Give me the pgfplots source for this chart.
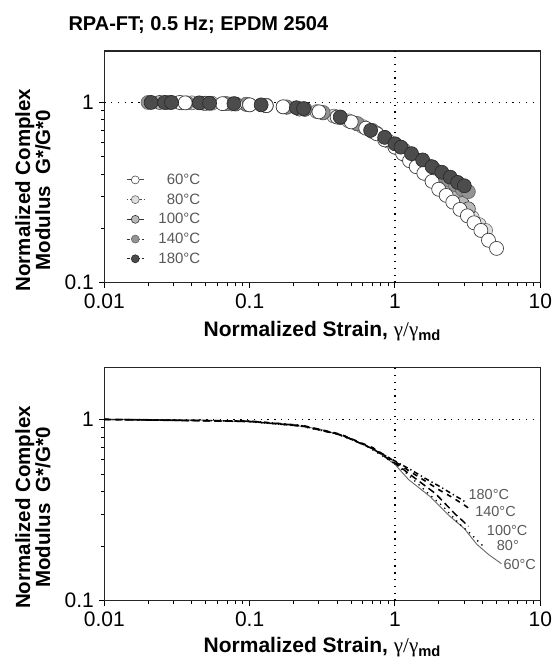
\documentclass[border=0pt]{standalone}
\usepackage{fontspec}
\setmainfont{Liberation Sans}
\newfontfamily\greekfont{Liberation Serif}
\usepackage{pgfplots}
\pgfplotsset{compat=1.18}
\usepackage{pgfplotstable}

\pgfplotstableread{
x y
0.033 1.0
0.036 0.995
0.05 0.99
0.065 0.985
0.08 0.98
0.1 0.97
0.13 0.96
0.17 0.946
0.22 0.92
0.3 0.887
0.4 0.83
0.5 0.78
0.63 0.72
0.75 0.67
0.85 0.62
1.0 0.565
1.13 0.52
1.26 0.475
1.4 0.44
1.58 0.405
1.8 0.365
2.0 0.33
2.25 0.305
2.5 0.28
2.8 0.255
3.15 0.235
3.5 0.215
3.9 0.195
4.4 0.172
5.0 0.155
}\tabA
\pgfplotstableread{
x y
0.028 1.0
0.04 0.995
0.055 0.99
0.075 0.98
0.1 0.97
0.13 0.96
0.17 0.945
0.22 0.92
0.29 0.89
0.38 0.84
0.48 0.79
0.6 0.735
0.75 0.675
0.9 0.61
1.05 0.555
1.2 0.505
1.35 0.465
1.5 0.435
1.7 0.395
1.9 0.36
2.15 0.33
2.4 0.30
2.7 0.275
3.0 0.255
3.4 0.23
3.8 0.21
4.2 0.195
}\tabB
\pgfplotstableread{
x y
0.024 1.0
0.034 0.995
0.048 0.99
0.068 0.985
0.095 0.975
0.13 0.96
0.18 0.94
0.24 0.915
0.32 0.875
0.42 0.825
0.55 0.76
0.7 0.69
0.85 0.63
1.0 0.575
1.15 0.53
1.3 0.49
1.5 0.45
1.7 0.415
1.9 0.385
2.1 0.355
2.35 0.325
2.6 0.30
2.9 0.275
3.2 0.257
}\tabC
\pgfplotstableread{
x y
0.02 1.0
0.027 0.998
0.037 0.995
0.05 0.99
0.07 0.985
0.095 0.978
0.13 0.965
0.18 0.945
0.24 0.92
0.32 0.88
0.42 0.83
0.55 0.765
0.7 0.70
0.85 0.64
1.0 0.585
1.15 0.545
1.3 0.51
1.5 0.475
1.7 0.445
1.9 0.42
2.1 0.395
2.35 0.37
2.6 0.35
2.9 0.33
3.2 0.32
}\tabD
\pgfplotstableread{
x y
0.021 1.0
0.026 1.0
0.029 1.0
0.045 0.995
0.053 0.99
0.078 0.985
0.12 0.97
0.21 0.935
0.235 0.925
0.42 0.83
0.68 0.70
0.85 0.64
1.0 0.59
1.1 0.565
1.3 0.52
1.55 0.48
1.8 0.44
2.1 0.41
2.4 0.385
2.7 0.36
3.0 0.345
}\tabE

\tikzset{gridln/.style={black, line width=1.3pt, dash pattern=on 1.3pt off 5.5pt}}
\newcommand\ylab{Normalized Complex\\Modulus\ \ G*/G*0}
\newcommand\xlab{Normalized Strain, {\greekfont\mdseries γ/γ}\textsubscript{md}}
\newcommand\tlfont{\fontsize{21}{24}\selectfont}
\newcommand\legtxt[1]{\makebox[44pt][r]{#1}}

\begin{document}
\begin{tikzpicture}
\path[use as bounding box] (0,0) rectangle (558pt,660pt);
\node[anchor=west, font=\bfseries\fontsize{20}{24}\selectfont] at (65pt,635pt) {RPA-FT; 0.5 Hz; EPDM 2504};

\begin{axis}[at={(104.3pt,377.3pt)}, anchor=south west,
  scale only axis, width=436pt, height=231.7pt,
  xmode=log, ymode=log,
  xmin=0.01, xmax=10, ymin=0.1, ymax=1.93,
  xtick={0.01,0.1,1,10}, xticklabels={0.01,0.1,1,10},
  ytick={0.1,1}, yticklabels={0.1,1},
  minor xtick={}, minor ytick={},
  tick align=outside, tick pos=left,
  major tick length=5pt,
  tick style={line width=1pt, black},
  axis line style={line width=1.1pt, black!85},
  ticklabel style={font=\tlfont},
  xticklabel style={yshift=-3pt},
  yticklabel style={xshift=-2pt},
  ylabel={\ylab},
  ylabel style={align=center, font=\bfseries\fontsize{20.5}{20}\selectfont, at={(axis description cs:-0.1635,0.40)}, anchor=center},
  xlabel={\xlab},
  xlabel style={font=\bfseries\fontsize{21}{24}\selectfont, at={(axis description cs:0.5,-0.21)}, anchor=center},
  legend style={at={(axis description cs:0.05,0.479)}, anchor=north west, draw=none, fill=none,
    font=\fontsize{15}{17}\selectfont, text=black!65, row sep=3.75pt, inner sep=0pt,
    /tikz/every odd column/.style={column sep=10pt}},
]
\draw[gridln] (axis cs:0.01,1) -- (axis cs:10,1);
\draw[gridln] (axis cs:1,0.1) -- (axis cs:1,1.93);
\addlegendimage{black!70, line width=0.8pt, mark=*, mark size=4pt, mark options={solid, fill=white, draw=black!70, line width=0.6pt}}
\addlegendentry{\legtxt{60°C}}
\addlegendimage{black!70, line width=0.9pt, dash pattern=on 1pt off 2.5pt on 3pt off 2pt, mark=*, mark size=4pt, mark options={solid, fill=gray!25, draw=black!60, line width=0.6pt}}
\addlegendentry{\legtxt{80°C}}
\addlegendimage{black!80, line width=0.9pt, mark=*, mark size=4pt, mark options={solid, fill=gray!55, draw=black!80, line width=0.6pt}}
\addlegendentry{\legtxt{100°C}}
\addlegendimage{black!80, line width=0.9pt, dash pattern=on 3pt off 2pt, mark=*, mark size=4pt, mark options={solid, fill=gray!85, draw=black!60, line width=0.6pt}}
\addlegendentry{\legtxt{140°C}}
\addlegendimage{black!85, line width=0.9pt, dash pattern=on 3pt off 2pt, mark=*, mark size=4pt, mark options={solid, fill=black!70, draw=black!85, line width=0.6pt}}
\addlegendentry{\legtxt{180°C}}
\addplot[forget plot, only marks, mark=*, mark size=7pt, mark options={fill=gray!25, draw=black!60, line width=0.6pt}] table[x=x,y=y]{\tabB};
\addplot[forget plot, only marks, mark=*, mark size=7pt, mark options={fill=gray!55, draw=black!80, line width=0.6pt}] table[x=x,y=y]{\tabC};
\addplot[forget plot, only marks, mark=*, mark size=7pt, mark options={fill=gray!85, draw=black!60, line width=0.6pt}] table[x=x,y=y]{\tabD};
\addplot[forget plot, only marks, mark=*, mark size=7pt, mark options={fill=white, draw=black!75, line width=0.7pt}] table[x=x,y=y]{\tabA};
\addplot[forget plot, only marks, mark=*, mark size=7pt, mark options={fill=black!70, draw=black!85, line width=0.6pt}] table[x=x,y=y]{\tabE};
\end{axis}

\begin{axis}[at={(104.3pt,59.3pt)}, anchor=south west,
  scale only axis, width=436pt, height=233pt,
  xmode=log, ymode=log,
  xmin=0.01, xmax=10, ymin=0.1, ymax=1.93,
  xtick={0.01,0.1,1,10}, xticklabels={0.01,0.1,1,10},
  ytick={0.1,1}, yticklabels={0.1,1},
  minor xtick={}, minor ytick={},
  tick align=outside, tick pos=left,
  major tick length=5pt,
  tick style={line width=1pt, black},
  axis line style={line width=1.1pt, black!85},
  ticklabel style={font=\tlfont},
  xticklabel style={yshift=-3pt},
  yticklabel style={xshift=-2pt},
  ylabel={\ylab},
  ylabel style={align=center, font=\bfseries\fontsize{20.5}{20}\selectfont, at={(axis description cs:-0.1635,0.40)}, anchor=center},
  xlabel={\xlab},
  xlabel style={font=\bfseries\fontsize{21}{24}\selectfont, at={(axis description cs:0.5,-0.2)}, anchor=center},
]
\draw[gridln] (axis cs:0.01,1) -- (axis cs:10,1);
\draw[gridln] (axis cs:1,0.1) -- (axis cs:1,1.93);
\addplot[black!60, line width=0.9pt] coordinates {(0.01,1)(0.02,1)(0.05,0.99)(0.1,0.97)(0.17,0.946)(0.22,0.92)(0.3,0.887)(0.4,0.83)(0.5,0.78)(0.63,0.72)(0.75,0.67)(0.85,0.62)(1.0,0.565)(1.24,0.466)(1.74,0.376)(2.39,0.292)(3.0,0.25)(3.65,0.205)(4.4,0.18)(5.4,0.16)};
\addplot[black, line width=1.3pt, dash pattern=on 1.3pt off 4.5pt] coordinates {(0.01,1)(0.03,0.995)(0.1,0.97)(0.22,0.92)(0.38,0.84)(0.6,0.735)(1.0,0.57)(1.2,0.505)(1.7,0.39)(2.15,0.33)(2.74,0.268)(3.28,0.236)(4.17,0.195)};
\addplot[black, line width=1.5pt, dash pattern=on 7pt off 4pt] coordinates {(0.01,1)(0.1,0.975)(0.24,0.915)(0.42,0.825)(0.7,0.69)(1.0,0.575)(1.3,0.49)(1.9,0.39)(2.2,0.345)(2.6,0.30)(2.95,0.274)(3.2,0.257)};
\addplot[black, line width=1.6pt, dash pattern=on 5pt off 5pt] coordinates {(0.01,1)(0.1,0.978)(0.24,0.92)(0.42,0.83)(0.7,0.70)(1.0,0.585)(1.3,0.51)(1.6,0.46)(2.0,0.41)(2.5,0.37)(2.95,0.34)(3.2,0.325)};
\addplot[black, line width=1.5pt, dash pattern=on 5pt off 3pt on 1.3pt off 3pt] coordinates {(0.01,1)(0.1,0.98)(0.22,0.93)(0.45,0.81)(0.7,0.69)(1.0,0.59)(1.3,0.525)(1.6,0.475)(2.0,0.43)(2.45,0.39)(2.88,0.361)(3.12,0.346)};
\node[anchor=west, inner sep=0pt, font=\fontsize{14.5}{17}\selectfont, text=black!65] at (axis cs:3.2,0.385) {180°C};
\node[anchor=west, inner sep=0pt, font=\fontsize{14.5}{17}\selectfont, text=black!65] at (axis cs:3.56,0.311) {140°C};
\node[anchor=west, inner sep=0pt, font=\fontsize{14.5}{17}\selectfont, text=black!65] at (axis cs:4.28,0.244) {100°C};
\node[anchor=west, inner sep=0pt, font=\fontsize{14.5}{17}\selectfont, text=black!65] at (axis cs:5.01,0.201) {80°};
\node[anchor=west, inner sep=0pt, font=\fontsize{14.5}{17}\selectfont, text=black!65] at (axis cs:5.57,0.158) {60°C};
\end{axis}
\end{tikzpicture}
\end{document}
